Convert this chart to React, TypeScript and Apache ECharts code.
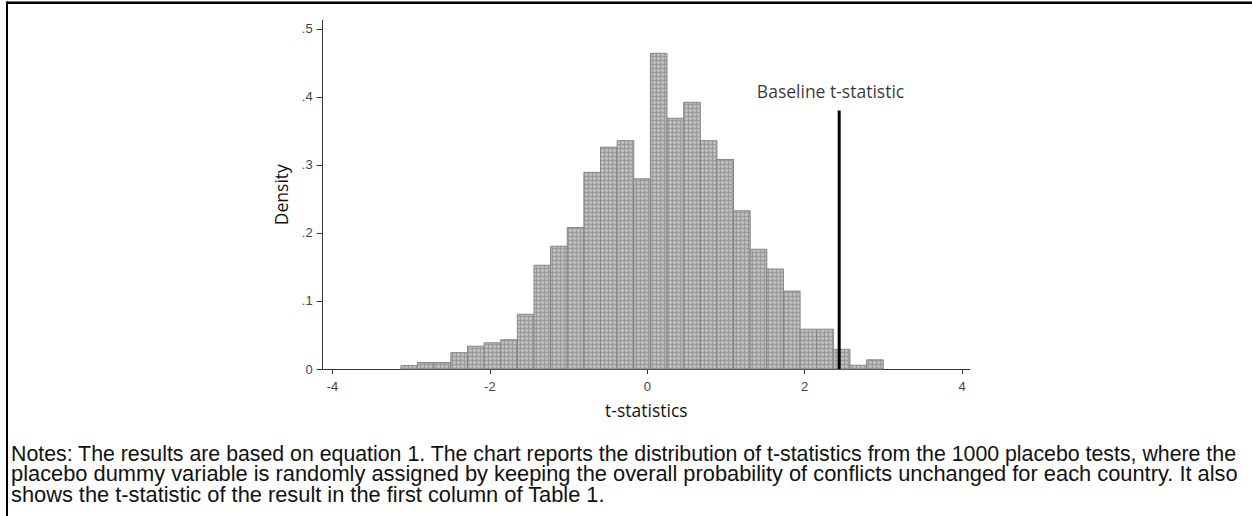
import React, { useEffect, useRef } from "react";
import * as echarts from "echarts";

// Histogram of placebo t-statistics (density per bin)
const binStart = -3.13;
const binWidth = 0.2113;
const densities = [
  0.005, 0.0095, 0.0095, 0.024, 0.0335, 0.0385, 0.043, 0.0805, 0.1525, 0.1805,
  0.208, 0.289, 0.326, 0.3355, 0.2795, 0.464, 0.3685, 0.392, 0.3355, 0.308,
  0.2325, 0.176, 0.147, 0.1145, 0.0585, 0.0585, 0.029, 0.0055, 0.0135,
];
const xTicks = [-4, -2, 0, 2, 4];
const yTicks = [0, 0.1, 0.2, 0.3, 0.4, 0.5];
const xRange = [-4.124, 4.1];
const yRange = [0, 0.5125];
const baselineT = 2.438;
const baselineTop = 0.38;
const baselineLabel = "Baseline t-statistic";
const baselineLabelPos = [2.328, 0.409];
const xTitle = "t-statistics";
const yTitle = "Density";
const notes = [
  "Notes: The results are based on equation 1. The chart reports the distribution of t-statistics from the 1000 placebo tests, where the",
  "placebo dummy variable is randomly assigned by keeping the overall probability of conflicts unchanged for each country. It also",
  "shows the t-statistic of the result in the first column of Table 1.",
];
// target rendered widths of the note lines (first two are justified)
const noteWidths = [1227, 1227, 594];

const NOTE_FONT = 21.8;

function makePattern(): HTMLCanvasElement {
  const c = document.createElement("canvas");
  c.width = 4;
  c.height = 4;
  const ctx = c.getContext("2d")!;
  ctx.fillStyle = "#b6b6b6";
  ctx.fillRect(0, 0, 4, 4);
  ctx.fillStyle = "#9c9c9c";
  ctx.fillRect(0, 0, 4, 1);
  ctx.fillRect(0, 0, 1, 4);
  ctx.fillStyle = "#d6d6d6";
  ctx.fillRect(2, 2, 1, 1);
  return c;
}

function measure(text: string, size: number, family: string): number {
  const c = document.createElement("canvas");
  const ctx = c.getContext("2d")!;
  ctx.font = `${size}px "${family}"`;
  return ctx.measureText(text).width;
}

export default function App() {
  const ref = useRef<HTMLDivElement>(null);

  useEffect(() => {
    document.body.style.margin = "0";
    if (!ref.current) return;
    const chart = echarts.init(ref.current, null, { renderer: "svg" });
    const pattern = { image: makePattern(), repeat: "repeat" };

    const histData = densities.map((d, i) => [
      binStart + i * binWidth,
      binStart + (i + 1) * binWidth,
      d,
    ]);

    const fmtY = (v: number) => (v === 0 ? "0" : v.toFixed(1).replace(/^0/, ""));

    const noteScale = notes.map((t, i) => {
      const w = measure(t, NOTE_FONT, "Liberation Sans");
      return w > 0 ? noteWidths[i] / w : 1;
    });

    const option: any = {
      animation: false,
      backgroundColor: "#ffffff",
      grid: { left: 322.7, right: 282, top: 20.3, bottom: 147 },
      xAxis: {
        type: "value",
        min: xRange[0],
        max: xRange[1],
        name: xTitle,
        nameLocation: "middle",
        nameGap: 32,
        nameTextStyle: { fontFamily: "Open Sans", fontSize: 17.5, color: "#111" },
        axisLine: { show: true, onZero: false, lineStyle: { color: "#333", width: 1 } },
        axisTick: { show: true, length: 5, customValues: xTicks, lineStyle: { color: "#333" } },
        axisLabel: {
          customValues: xTicks,
          fontFamily: "Liberation Sans",
          fontSize: 13,
          color: "#444",
          margin: 11,
        },
        splitLine: { show: false },
      },
      yAxis: {
        type: "value",
        min: yRange[0],
        max: yRange[1],
        name: yTitle,
        nameLocation: "middle",
        nameGap: 33,
        nameRotate: 90,
        nameTextStyle: { fontFamily: "Open Sans", fontSize: 17.5, color: "#111" },
        axisLine: { show: true, onZero: false, lineStyle: { color: "#333", width: 1 } },
        axisTick: { show: true, length: 6, customValues: yTicks, lineStyle: { color: "#333" } },
        axisLabel: {
          customValues: yTicks,
          fontFamily: "Liberation Sans",
          fontSize: 13,
          color: "#444",
          margin: 10,
          formatter: fmtY,
        },
        splitLine: { show: false },
      },
      series: [
        {
          type: "custom",
          name: "hist",
          data: histData,
          encode: { x: [0, 1], y: 2 },
          silent: true,
          renderItem: (params: any, api: any) => {
            const x0 = api.value(0);
            const x1 = api.value(1);
            const y = api.value(2);
            const a = api.coord([x0, y]);
            const b = api.coord([x1, 0]);
            return {
              type: "rect",
              shape: { x: a[0], y: a[1], width: b[0] - a[0], height: b[1] - a[1] },
              style: { fill: pattern, stroke: "#868686", lineWidth: 1 },
            };
          },
          z: 2,
        },
        {
          type: "line",
          name: "baseline",
          data: [
            [baselineT, 0],
            [baselineT, baselineTop],
          ],
          symbol: "none",
          silent: true,
          lineStyle: { color: "#000", width: 3 },
          z: 5,
        },
        {
          type: "scatter",
          name: "label",
          data: [baselineLabelPos],
          symbolSize: 0,
          silent: true,
          label: {
            show: true,
            position: "inside",
            formatter: baselineLabel,
            fontFamily: "Open Sans",
            fontSize: 17.5,
            color: "#000",
          },
          z: 6,
        },
      ],
      graphic: [
        {
          type: "line",
          shape: { x1: 7, y1: 2.8, x2: 1252, y2: 2.8 },
          style: { stroke: "#000", lineWidth: 2.4 },
          silent: true,
        },
        {
          type: "line",
          shape: { x1: 7, y1: 1.6, x2: 7, y2: 516 },
          style: { stroke: "#000", lineWidth: 2 },
          silent: true,
        },
        ...notes.map((t, i) => ({
          type: "text",
          x: 11,
          y: 453 + i * 20.6,
          scaleX: noteScale[i],
          silent: true,
          style: {
            text: t,
            fontFamily: "Liberation Sans",
            fontSize: NOTE_FONT,
            lineHeight: 19,
            fill: "#111",
            verticalAlign: "middle",
            align: "left",
          },
        })),
      ],
    };

    chart.setOption(option);
    return () => chart.dispose();
  }, []);

  return <div ref={ref} style={{ width: 1252, height: 516 }} />;
}
